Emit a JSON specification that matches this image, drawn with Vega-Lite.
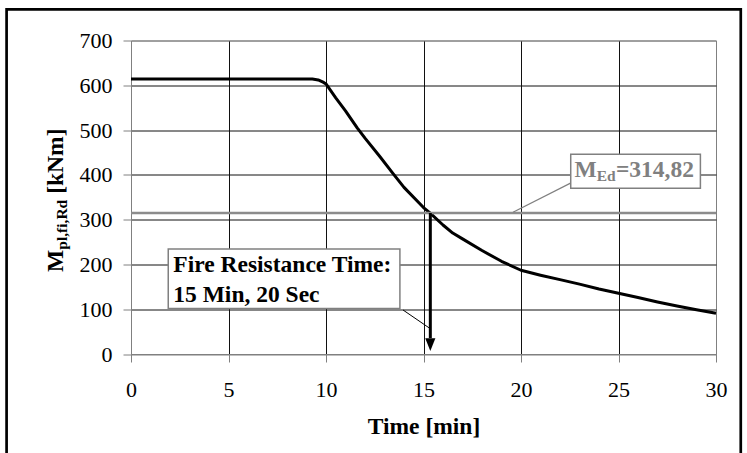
{
  "$schema": "https://vega.github.io/schema/vega-lite/v6.json",
  "width": 585,
  "height": 313.5,
  "autosize": {"type": "none"},
  "padding": {"left": 131, "top": 40.5, "right": 31, "bottom": 99},
  "background": "white",
  "config": {
    "view": {"stroke": "#808080", "strokeWidth": 1},
    "axis": {
      "labelFont": "Liberation Serif",
      "labelFontSize": 22,
      "labelColor": "black",
      "titleFont": "Liberation Serif",
      "titleFontSize": 23.5,
      "titleFontWeight": "bold",
      "titleColor": "black",
      "domainColor": "#808080",
      "tickColor": "#808080",
      "tickSize": 8,
      "gridWidth": 1,
      "labelFlush": false,
      "labelOverlap": false
    },
    "text": {"font": "Liberation Serif", "fontWeight": "bold"}
  },
  "datasets": {
    "curve": [
      {"t": 0, "m": 614},
      {"t": 9.3, "m": 614},
      {"t": 9.6, "m": 612},
      {"t": 9.85, "m": 607},
      {"t": 10, "m": 603},
      {"t": 10.5, "m": 572},
      {"t": 11, "m": 543},
      {"t": 11.6, "m": 505},
      {"t": 12, "m": 482},
      {"t": 12.76, "m": 441},
      {"t": 13.4, "m": 405},
      {"t": 14, "m": 372},
      {"t": 15, "m": 327},
      {"t": 15.33, "m": 315},
      {"t": 16, "m": 288},
      {"t": 16.5, "m": 270},
      {"t": 17, "m": 257},
      {"t": 18, "m": 231},
      {"t": 19, "m": 207},
      {"t": 20, "m": 187},
      {"t": 21, "m": 176},
      {"t": 22, "m": 166},
      {"t": 23, "m": 156},
      {"t": 24, "m": 145},
      {"t": 25, "m": 135.5},
      {"t": 26, "m": 126},
      {"t": 27, "m": 116},
      {"t": 28, "m": 107},
      {"t": 29, "m": 99},
      {"t": 30, "m": 91}
    ],
    "medText": [
      {"x": 22.74, "y": 394.8, "label": "M"},
      {"x": 24.87, "y": 394.8, "label": "=314,82"}
    ],
    "medSub": [
      {"x": 23.88, "y": 385.8, "label": "Ed"}
    ],
    "fireText": [
      {"x": 2.17, "y": 182.5, "label": "Fire Resistance Time:"},
      {"x": 2.17, "y": 116.8, "label": "15 Min, 20 Sec"}
    ],
    "yTitle": [
      {"x": -3.485, "y": 183.2, "label": "M"},
      {"x": -3.485, "y": 357.7, "label": "[kNm]"}
    ],
    "yTitleSub": [
      {"x": -3.28, "y": 232.8, "label": "pl,fi,Rd"}
    ]
  },
  "layer": [
    {
      "data": {"name": "curve"},
      "mark": {"type": "line", "color": "black", "strokeWidth": 3, "strokeJoin": "round"},
      "encoding": {
        "x": {
          "field": "t", "type": "quantitative",
          "scale": {"domain": [0, 30], "nice": false, "zero": false},
          "axis": {
            "title": "Time [min]",
            "values": [0, 5, 10, 15, 20, 25, 30],
            "labelPadding": 17,
            "titleBaseline": "alphabetic",
            "titleY": 79,
            "gridColor": {"condition": {"test": "datum.value == 0 || datum.value == 30", "value": "#808080"}, "value": "#111111"}
          }
        },
        "y": {
          "field": "m", "type": "quantitative",
          "scale": {"domain": [0, 700], "nice": false},
          "axis": {
            "title": null,
            "values": [0, 100, 200, 300, 400, 500, 600, 700],
            "labelPadding": 11,
            "gridColor": {"condition": {"test": "datum.value == 0 || datum.value == 700", "value": "#808080"}, "value": "#111111"}
          }
        }
      }
    },
    {
      "data": {"values": [{"t1": 0, "t2": 30, "v": 314.82}]},
      "mark": {"type": "rule", "color": "#8c8c8c", "strokeWidth": 2.3},
      "encoding": {
        "x": {"field": "t1", "type": "quantitative", "title": "Time [min]"},
        "x2": {"field": "t2"},
        "y": {"field": "v", "type": "quantitative", "title": null}
      }
    },
    {
      "data": {"values": [{"x1": 22.59, "x2": 19.59, "y1": 382.7, "y2": 316.6}]},
      "mark": {"type": "rule", "color": "#808080", "strokeWidth": 1.2},
      "encoding": {
        "x": {"field": "x1", "type": "quantitative", "title": "Time [min]"},
        "x2": {"field": "x2"},
        "y": {"field": "y1", "type": "quantitative", "title": null},
        "y2": {"field": "y2"}
      }
    },
    {
      "data": {"values": [{"x1": 13.95, "x2": 15.32, "y1": 98.3, "y2": 57.4}]},
      "mark": {"type": "rule", "color": "black", "strokeWidth": 1},
      "encoding": {
        "x": {"field": "x1", "type": "quantitative", "title": "Time [min]"},
        "x2": {"field": "x2"},
        "y": {"field": "y1", "type": "quantitative", "title": null},
        "y2": {"field": "y2"}
      }
    },
    {
      "data": {"values": [{"t": 15.35, "v1": 314.82, "v2": 35.5}]},
      "mark": {"type": "rule", "color": "black", "strokeWidth": 3},
      "encoding": {
        "x": {"field": "t", "type": "quantitative", "title": "Time [min]"},
        "y": {"field": "v1", "type": "quantitative", "title": null},
        "y2": {"field": "v2"}
      }
    },
    {
      "data": {"values": [{"t": 15.35, "v": 20.8}]},
      "mark": {"type": "point", "shape": "M-0.8,-1L0.8,-1L0,1Z", "size": 161, "filled": true, "color": "black", "opacity": 1, "strokeWidth": 0},
      "encoding": {
        "x": {"field": "t", "type": "quantitative", "title": "Time [min]"},
        "y": {"field": "v", "type": "quantitative", "title": null}
      }
    },
    {
      "data": {"values": [
        {"x1": 1.91, "x2": 13.79, "y1": 101.5, "y2": 234.6},
        {"x1": 22.55, "x2": 29.2, "y1": 370.2, "y2": 446.2}
      ]},
      "mark": {"type": "rect", "fill": "white", "stroke": "#808080", "strokeWidth": 1.5},
      "encoding": {
        "x": {"field": "x1", "type": "quantitative", "title": "Time [min]"},
        "x2": {"field": "x2"},
        "y": {"field": "y1", "type": "quantitative", "title": null},
        "y2": {"field": "y2"}
      }
    },
    {
      "data": {"name": "fireText"},
      "mark": {"type": "text", "fontSize": 23.5, "align": "left", "baseline": "alphabetic", "color": "black"},
      "encoding": {
        "x": {"field": "x", "type": "quantitative", "title": "Time [min]"},
        "y": {"field": "y", "type": "quantitative", "title": null},
        "text": {"field": "label"}
      }
    },
    {
      "data": {"name": "medText"},
      "mark": {"type": "text", "fontSize": 23.5, "align": "left", "baseline": "alphabetic", "color": "#808080"},
      "encoding": {
        "x": {"field": "x", "type": "quantitative", "title": "Time [min]"},
        "y": {"field": "y", "type": "quantitative", "title": null},
        "text": {"field": "label"}
      }
    },
    {
      "data": {"name": "medSub"},
      "mark": {"type": "text", "fontSize": 15.5, "align": "left", "baseline": "alphabetic", "color": "#808080"},
      "encoding": {
        "x": {"field": "x", "type": "quantitative", "title": "Time [min]"},
        "y": {"field": "y", "type": "quantitative", "title": null},
        "text": {"field": "label"}
      }
    },
    {
      "data": {"name": "yTitle"},
      "mark": {"type": "text", "fontSize": 23.5, "align": "left", "baseline": "alphabetic", "angle": 270, "color": "black"},
      "encoding": {
        "x": {"field": "x", "type": "quantitative", "title": "Time [min]"},
        "y": {"field": "y", "type": "quantitative", "title": null},
        "text": {"field": "label"}
      }
    },
    {
      "data": {"name": "yTitleSub"},
      "mark": {"type": "text", "fontSize": 15.5, "align": "left", "baseline": "alphabetic", "angle": 270, "color": "black"},
      "encoding": {
        "x": {"field": "x", "type": "quantitative", "title": "Time [min]"},
        "y": {"field": "y", "type": "quantitative", "title": null},
        "text": {"field": "label"}
      }
    },
    {
      "data": {"values": [{}]},
      "mark": {"type": "rect", "stroke": "black", "strokeWidth": 2.7, "fillOpacity": 0},
      "encoding": {
        "x": {"datum": -6.38, "type": "quantitative", "title": "Time [min]"},
        "x2": {"datum": 31.27},
        "y": {"datum": 769.7, "type": "quantitative", "title": null},
        "y2": {"datum": -230}
      }
    }
  ]
}
